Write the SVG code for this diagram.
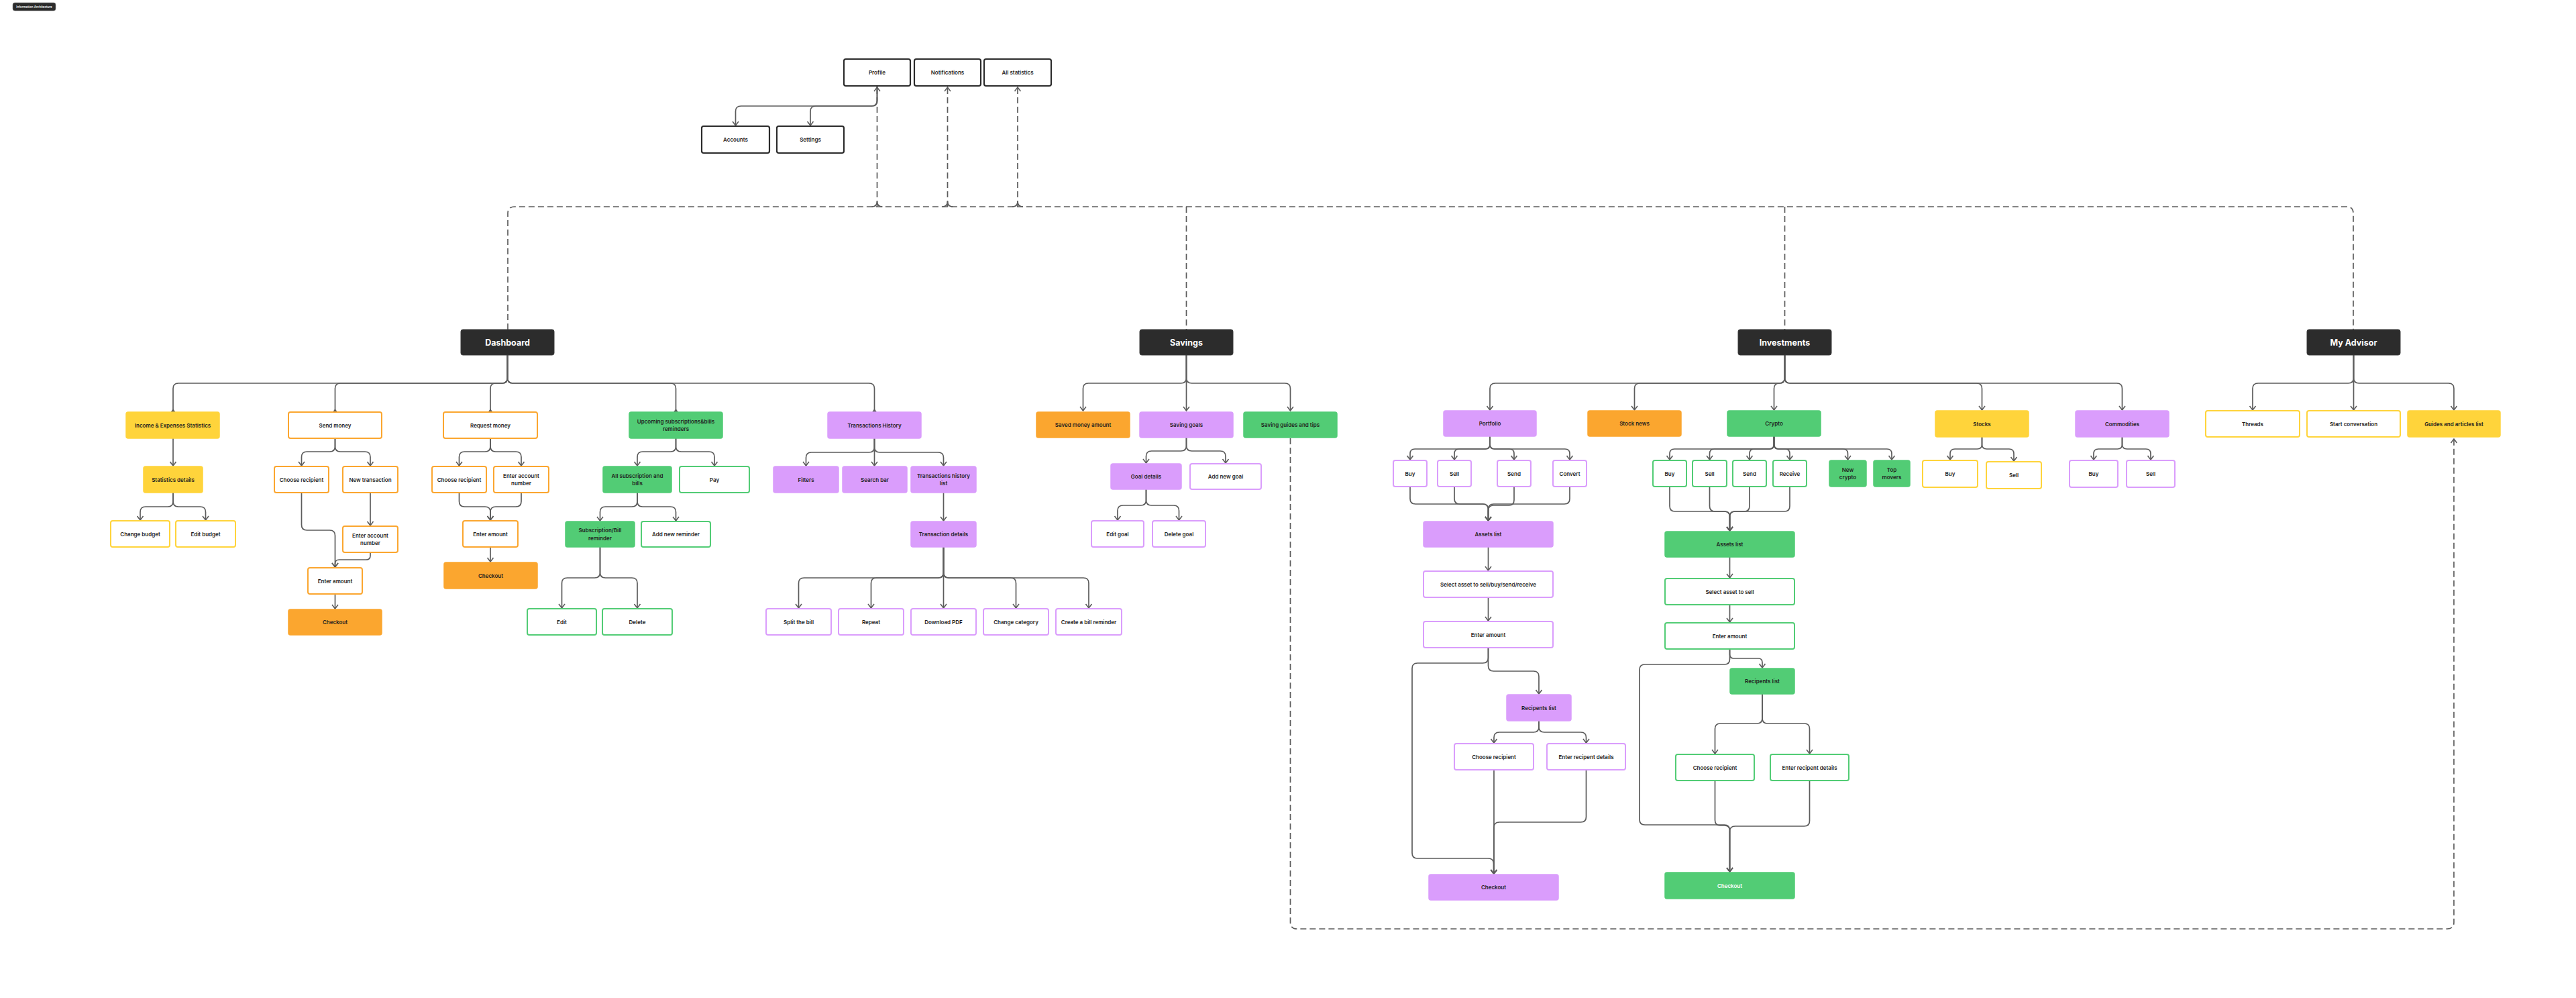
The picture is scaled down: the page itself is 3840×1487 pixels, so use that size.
<svg xmlns="http://www.w3.org/2000/svg" width="3840" height="1487" viewBox="0 0 3840 1487">
<style>
text{font-family:Inter,"Liberation Sans",Arial,sans-serif;font-size:8px;font-weight:600;fill:#1e1e1e;text-anchor:middle;dominant-baseline:central}
.root text{font-size:12.5px;font-weight:700;fill:#ffffff}
.root rect{fill:#2c2c2c;stroke:#3a3a3a;stroke-width:1}
.top rect{fill:#ffffff;stroke:#2b2b2b;stroke-width:2.2}
rect{rx:3;ry:3}
.yf{fill:#ffd43b;stroke:#ffd43b;stroke-width:1.5}
.yo{fill:#ffffff;stroke:#ffd43b;stroke-width:2}
.of{fill:#fba62f;stroke:#fba62f;stroke-width:1.5}
.oo{fill:#ffffff;stroke:#fba62f;stroke-width:2}
.gf{fill:#52cc75;stroke:#52cc75;stroke-width:1.5}
.go{fill:#ffffff;stroke:#52cc75;stroke-width:2}
.pf{fill:#da9dfc;stroke:#da9dfc;stroke-width:1.5}
.po{fill:#ffffff;stroke:#da9dfc;stroke-width:2}
.wt{fill:#ffffff}
#connectors path{fill:none;stroke:#5c5c5c;stroke-width:1.7}
#connectors .a{marker-end:url(#arr)}
#connectors .t{marker-end:url(#tri)}
#connectors .d{stroke-dasharray:9 5}
</style>
<defs>
<marker id="arr" markerUnits="userSpaceOnUse" viewBox="-8 -6 10 12" markerWidth="10" markerHeight="12" refX="0" refY="0" orient="auto">
<path d="M-6,-4.5 L0,0 L-6,4.5" fill="none" stroke="#5c5c5c" stroke-width="1.6"/>
</marker>
<marker id="tri" markerUnits="userSpaceOnUse" viewBox="-7 -5 8 10" markerWidth="8" markerHeight="10" refX="0" refY="0" orient="auto">
<path d="M0,-3.5 L-5,0 L0,3.5 Z" fill="#5c5c5c"/>
</marker>
</defs>
<rect x="0" y="0" width="3840" height="1487" fill="#ffffff" rx="0" ry="0"/>

<g id="title"><rect x="19" y="4" width="64" height="12" rx="2" ry="2" fill="#2c2c2c" stroke="#888" stroke-width="0.6"/><text x="51" y="10" style="font-size:4.6px;font-weight:500;fill:#fff">Information Architecture</text></g>

<g id="connectors">
<!-- dashed global links -->
<path class="d" d="M757 491 V318 Q757 308 767 308 H3498 Q3508 308 3508 318 V491"/>
<path class="d" d="M1768.5 308 V491"/>
<path class="d" d="M2660.5 308 V491"/>
<path class="d a" d="M1307.5 308 V130"/>
<path class="d a" d="M1412.5 308 V130"/>
<path class="d a" d="M1517 308 V130"/>
<path d="M1299.5 308 Q1307.5 308 1307.5 300 M1315.5 308 Q1307.5 308 1307.5 300"/>
<path d="M1404.5 308 Q1412.5 308 1412.5 300 M1420.5 308 Q1412.5 308 1412.5 300"/>
<path d="M1509 308 Q1517 308 1517 300 M1525 308 Q1517 308 1517 300"/>
<path class="d a" d="M1923.5 653 V1374 Q1923.5 1384 1933.5 1384 H3648 Q3658 1384 3658 1374 V654"/>
<!-- profile -->
<path class="a" d="M1307.5 128 V150 Q1307.5 158 1299.5 158 H1104.5 Q1096.5 158 1096.5 166 V187"/>
<path class="a" d="M1307.5 128 V150 Q1307.5 158 1299.5 158 H1216 Q1208 158 1208 166 V187"/>
<!-- dashboard -->
<path class="t" d="M756.5 529 V563 Q756.5 571 748.5 571 H266 Q258 571 258 579 V614"/>
<path class="t" d="M756.5 529 V563 Q756.5 571 748.5 571 H507.5 Q499.5 571 499.5 579 V614"/>
<path class="t" d="M756.5 529 V563 Q756.5 571 748.5 571 H739 Q731 571 731 579 V614"/>
<path class="t" d="M756.5 529 V563 Q756.5 571 764.5 571 H999.5 Q1007.5 571 1007.5 579 V614"/>
<path class="t" d="M756.5 529 V563 Q756.5 571 764.5 571 H1295.5 Q1303.5 571 1303.5 579 V614"/>
<path class="a" d="M258 653 V694"/>
<path class="a" d="M258 734 V747 Q258 755 250 755 H217 Q209 755 209 763 V775"/>
<path class="a" d="M258 734 V747 Q258 755 266 755 H298.5 Q306.5 755 306.5 763 V775"/>
<path class="a" d="M499.5 653 V665 Q499.5 673 491.5 673 H457.5 Q449.5 673 449.5 681 V694"/>
<path class="a" d="M499.5 653 V665 Q499.5 673 507.5 673 H544 Q552 673 552 681 V694"/>
<path class="a" d="M449.5 734 V782 Q449.5 790 457.5 790 H491.5 Q499.5 790 499.5 798 V845"/>
<path class="a" d="M552 734 V783"/>
<path class="a" d="M552 823 V828 Q552 834 546 834 H505.5 Q499.5 834 499.5 840 V845"/>
<path class="a" d="M499.5 885 V907"/>
<path class="a" d="M731 653 V665 Q731 673 723 673 H692.5 Q684.5 673 684.5 681 V694"/>
<path class="a" d="M731 653 V665 Q731 673 739 673 H769 Q777 673 777 681 V694"/>
<path class="a" d="M684.5 734 V747 Q684.5 755 692.5 755 H723 Q731 755 731 763 V775"/>
<path class="a" d="M777 734 V747 Q777 755 769 755 H739 Q731 755 731 763 V775"/>
<path class="a" d="M731 815 V837"/>
<path class="a" d="M1007.5 653 V665 Q1007.5 673 999.5 673 H958 Q950 673 950 681 V694"/>
<path class="a" d="M1007.5 653 V665 Q1007.5 673 1015.5 673 H1057 Q1065 673 1065 681 V694"/>
<path class="a" d="M950 734 V747 Q950 755 942 755 H902.5 Q894.5 755 894.5 763 V776"/>
<path class="a" d="M950 734 V747 Q950 755 958 755 H999.5 Q1007.5 755 1007.5 763 V776"/>
<path class="a" d="M894.5 815 V853 Q894.5 861 886.5 861 H845.5 Q837.5 861 837.5 869 V906"/>
<path class="a" d="M894.5 815 V853 Q894.5 861 902.5 861 H942 Q950 861 950 869 V906"/>
<path class="a" d="M1303.5 653 V666 Q1303.5 674 1295.5 674 H1209.5 Q1201.5 674 1201.5 682 V694"/>
<path class="a" d="M1303.5 653 V694"/>
<path class="a" d="M1303.5 653 V666 Q1303.5 674 1311.5 674 H1398.5 Q1406.5 674 1406.5 682 V694"/>
<path class="a" d="M1406.5 734 V776"/>
<path class="a" d="M1406.5 815 V853 Q1406.5 861 1398.5 861 H1198.5 Q1190.5 861 1190.5 869 V906"/>
<path class="a" d="M1406.5 815 V853 Q1406.5 861 1398.5 861 H1306.5 Q1298.5 861 1298.5 869 V906"/>
<path class="a" d="M1406.5 815 V906"/>
<path class="a" d="M1406.5 815 V853 Q1406.5 861 1414.5 861 H1506.5 Q1514.5 861 1514.5 869 V906"/>
<path class="a" d="M1406.5 815 V853 Q1406.5 861 1414.5 861 H1615 Q1623 861 1623 869 V906"/>
<!-- savings -->
<path class="a" d="M1768.5 529 V563 Q1768.5 571 1760.5 571 H1622.5 Q1614.5 571 1614.5 579 V612"/>
<path class="a" d="M1768.5 529 V612"/>
<path class="a" d="M1768.5 529 V563 Q1768.5 571 1776.5 571 H1915.5 Q1923.5 571 1923.5 579 V612"/>
<path class="a" d="M1768.5 652 V664 Q1768.5 672 1760.5 672 H1716.5 Q1708.5 672 1708.5 680 V690"/>
<path class="a" d="M1768.5 652 V664 Q1768.5 672 1776.5 672 H1819 Q1827 672 1827 680 V690"/>
<path class="a" d="M1708.5 729 V745 Q1708.5 753 1700.5 753 H1674 Q1666 753 1666 761 V775"/>
<path class="a" d="M1708.5 729 V745 Q1708.5 753 1716.5 753 H1749.5 Q1757.5 753 1757.5 761 V775"/>
<!-- investments -->
<path class="a" d="M2660.5 529 V563 Q2660.5 571 2652.5 571 H2229 Q2221 571 2221 579 V611"/>
<path class="a" d="M2660.5 529 V563 Q2660.5 571 2652.5 571 H2444.5 Q2436.5 571 2436.5 579 V611"/>
<path class="a" d="M2660.5 529 V563 Q2660.5 571 2652.5 571 Q2644.5 571 2644.5 579 V611"/>
<path class="a" d="M2660.5 529 V563 Q2660.5 571 2668.5 571 H2946.5 Q2954.5 571 2954.5 579 V611"/>
<path class="a" d="M2660.5 529 V563 Q2660.5 571 2668.5 571 H3155.5 Q3163.5 571 3163.5 579 V611"/>
<!-- portfolio -->
<path class="a" d="M2221 650 V662 Q2221 669 2214 669 H2109 Q2102 669 2102 676 V685"/>
<path class="a" d="M2221 650 V662 Q2221 669 2214 669 H2175 Q2168 669 2168 676 V685"/>
<path class="a" d="M2221 650 V662 Q2221 669 2228 669 H2250 Q2257 669 2257 676 V685"/>
<path class="a" d="M2221 650 V662 Q2221 669 2228 669 H2333 Q2340 669 2340 676 V685"/>
<path class="a" d="M2102 725 V743 Q2102 751 2110 751 H2210.5 Q2218.5 751 2218.5 759 V776"/>
<path class="a" d="M2168 725 V743 Q2168 751 2176 751 H2210.5 Q2218.5 751 2218.5 759 V776"/>
<path class="a" d="M2257 725 V745 Q2257 753 2249 753 H2226.5 Q2218.5 753 2218.5 761 V776"/>
<path class="a" d="M2340 725 V743 Q2340 751 2332 751 H2226.5 Q2218.5 751 2218.5 759 V776"/>
<path class="a" d="M2218.5 815 V850"/>
<path class="a" d="M2218.5 890 V925"/>
<path class="a" d="M2218.5 965 V992 Q2218.5 1000 2226.5 1000 H2286 Q2294 1000 2294 1008 V1034"/>
<path class="a" d="M2218.5 965 V980 Q2218.5 988 2210.5 988 H2113 Q2105 988 2105 996 V1271 Q2105 1279 2113 1279 H2218.5 Q2226.5 1279 2226.5 1287 V1302"/>
<path class="a" d="M2294 1074 V1083 Q2294 1091 2286 1091 H2235 Q2227 1091 2227 1099 V1107"/>
<path class="a" d="M2294 1074 V1083 Q2294 1091 2302 1091 H2356.5 Q2364.5 1091 2364.5 1099 V1107"/>
<path class="a" d="M2227 1147 V1302"/>
<path class="a" d="M2364.5 1147 V1217 Q2364.5 1225 2356.5 1225 H2235 Q2227 1225 2227 1233 V1302"/>
<!-- crypto -->
<path class="a" d="M2644.5 650 V662 Q2644.5 669 2637.5 669 H2496 Q2489 669 2489 676 V685"/>
<path class="a" d="M2644.5 650 V662 Q2644.5 669 2637.5 669 H2555.5 Q2548.5 669 2548.5 676 V685"/>
<path class="a" d="M2644.5 650 V662 Q2644.5 669 2637.5 669 H2615 Q2608 669 2608 676 V685"/>
<path class="a" d="M2644.5 650 V662 Q2644.5 669 2651.5 669 H2661 Q2668 669 2668 676 V685"/>
<path class="a" d="M2644.5 650 V662 Q2644.5 669 2651.5 669 H2747.5 Q2754.5 669 2754.5 676 V685"/>
<path class="a" d="M2644.5 650 V662 Q2644.5 669 2651.5 669 H2813 Q2820 669 2820 676 V685"/>
<path class="a" d="M2489 725 V754 Q2489 762 2497 762 H2570.5 Q2578.5 762 2578.5 770 V791"/>
<path class="a" d="M2548.5 725 V754 Q2548.5 762 2556.5 762 H2570.5 Q2578.5 762 2578.5 770 V791"/>
<path class="a" d="M2608 725 V754 Q2608 762 2600 762 H2586.5 Q2578.5 762 2578.5 770 V791"/>
<path class="a" d="M2668 725 V754 Q2668 762 2660 762 H2586.5 Q2578.5 762 2578.5 770 V791"/>
<path class="a" d="M2578.5 830 V861"/>
<path class="a" d="M2578.5 901 V927"/>
<path class="a" d="M2578.5 967 V975 Q2578.5 981 2584.5 981 H2621 Q2627 981 2627 987 V995"/>
<path class="a" d="M2578.5 967 V982 Q2578.5 990 2570.5 990 H2452 Q2444 990 2444 998 V1221 Q2444 1229 2452 1229 H2570.5 Q2578.5 1229 2578.5 1237 V1299"/>
<path class="a" d="M2627 1034 V1070 Q2627 1078 2619 1078 H2564.5 Q2556.5 1078 2556.5 1086 V1123"/>
<path class="a" d="M2627 1034 V1070 Q2627 1078 2635 1078 H2689.5 Q2697.5 1078 2697.5 1086 V1123"/>
<path class="a" d="M2556.5 1163 V1222 Q2556.5 1230 2564.5 1230 H2570.5 Q2578.5 1230 2578.5 1238 V1299"/>
<path class="a" d="M2697.5 1163 V1223 Q2697.5 1231 2689.5 1231 H2586.5 Q2578.5 1231 2578.5 1239 V1299"/>
<!-- stocks / commodities -->
<path class="a" d="M2954.5 651 V662 Q2954.5 669 2947.5 669 H2914 Q2907 669 2907 676 V685"/>
<path class="a" d="M2954.5 651 V662 Q2954.5 669 2961.5 669 H2995 Q3002 669 3002 676 V687"/>
<path class="a" d="M3163.5 651 V662 Q3163.5 669 3156.5 669 H3128 Q3121 669 3121 676 V685"/>
<path class="a" d="M3163.5 651 V662 Q3163.5 669 3170.5 669 H3199 Q3206 669 3206 676 V685"/>
<!-- advisor -->
<path class="a" d="M3508.5 529 V563 Q3508.5 571 3500.5 571 H3366 Q3358 571 3358 579 V611"/>
<path class="a" d="M3508.5 529 V611"/>
<path class="a" d="M3508.5 529 V563 Q3508.5 571 3516.5 571 H3650 Q3658 571 3658 579 V611"/>
</g>

<g id="profile" class="top"><rect x="1258" y="88" width="99" height="40"/><text x="1307.5" y="108">Profile</text></g>
<g id="notifications" class="top"><rect x="1363" y="88" width="99" height="40"/><text x="1412.5" y="108">Notifications</text></g>
<g id="all-statistics" class="top"><rect x="1467" y="88" width="100" height="40"/><text x="1517" y="108">All statistics</text></g>
<g id="accounts" class="top"><rect x="1046" y="188" width="101" height="40"/><text x="1096.5" y="208">Accounts</text></g>
<g id="settings" class="top"><rect x="1158" y="188" width="100" height="40"/><text x="1208" y="208">Settings</text></g>

<g id="dashboard" class="root"><rect x="687" y="491" width="139" height="38"/><text x="756.5" y="510">Dashboard</text></g>
<g id="savings" class="root"><rect x="1699" y="491" width="139" height="38"/><text x="1768.5" y="510">Savings</text></g>
<g id="investments" class="root"><rect x="2591" y="491" width="139" height="38"/><text x="2660.5" y="510">Investments</text></g>
<g id="my-advisor" class="root"><rect x="3439" y="491" width="139" height="38"/><text x="3508.5" y="510">My Advisor</text></g>

<g id="income-expenses"><rect class="yf" x="188" y="614" width="139" height="39"/><text x="257.5" y="633.5">Income &amp; Expenses Statistics</text></g>
<g id="statistics-details"><rect class="yf" x="214" y="695" width="88" height="39"/><text x="258" y="714.5">Statistics details</text></g>
<g id="change-budget"><rect class="yo" x="165" y="776" width="88" height="39"/><text x="209" y="795.5">Change budget</text></g>
<g id="edit-budget"><rect class="yo" x="262" y="776" width="89" height="39"/><text x="306.5" y="795.5">Edit budget</text></g>

<g id="send-money"><rect class="oo" x="430" y="614" width="139" height="39"/><text x="499.5" y="633.5">Send money</text></g>
<g id="send-choose-recipient"><rect class="oo" x="409" y="695" width="81" height="39"/><text x="449.5" y="714.5">Choose recipient</text></g>
<g id="send-new-transaction"><rect class="oo" x="511" y="695" width="82" height="39"/><text x="552" y="714.5">New transaction</text></g>
<g id="send-enter-account"><rect class="oo" x="511" y="784" width="82" height="39"/><text x="552" y="803.5"><tspan x="552" y="797.8">Enter account</tspan><tspan x="552" y="809.3">number</tspan></text></g>
<g id="send-enter-amount"><rect class="oo" x="459" y="846" width="81" height="39"/><text x="499.5" y="865.5">Enter amount</text></g>
<g id="send-checkout"><rect class="of" x="430" y="908" width="139" height="38"/><text x="499.5" y="927">Checkout</text></g>

<g id="request-money"><rect class="oo" x="661" y="614" width="140" height="39"/><text x="731" y="633.5">Request money</text></g>
<g id="request-choose-recipient"><rect class="oo" x="644" y="695" width="81" height="39"/><text x="684.5" y="714.5">Choose recipient</text></g>
<g id="request-enter-account"><rect class="oo" x="736" y="695" width="82" height="39"/><text x="777" y="714.5"><tspan x="777" y="708.8">Enter account</tspan><tspan x="777" y="720.3">number</tspan></text></g>
<g id="request-enter-amount"><rect class="oo" x="690" y="776" width="82" height="39"/><text x="731" y="795.5">Enter amount</text></g>
<g id="request-checkout"><rect class="of" x="662" y="838" width="139" height="39"/><text x="731.5" y="857.5">Checkout</text></g>

<g id="upcoming"><rect class="gf" x="938" y="614" width="139" height="39"/><text x="1007.5" y="633.5"><tspan x="1007.5" y="627.8">Upcoming subscriptions&amp;bills</tspan><tspan x="1007.5" y="639.3">reminders</tspan></text></g>
<g id="all-subscriptions"><rect class="gf" x="899" y="695" width="102" height="39"/><text x="950" y="714.5"><tspan x="950" y="708.8">All subscription and</tspan><tspan x="950" y="720.3">bills</tspan></text></g>
<g id="pay"><rect class="go" x="1013" y="695" width="104" height="39"/><text x="1065" y="714.5">Pay</text></g>
<g id="subscription-reminder"><rect class="gf" x="843" y="777" width="103" height="38"/><text x="894.5" y="796"><tspan x="894.5" y="790.3">Subscription/Bill</tspan><tspan x="894.5" y="801.8">reminder</tspan></text></g>
<g id="add-new-reminder"><rect class="go" x="956" y="777" width="103" height="38"/><text x="1007.5" y="796">Add new reminder</text></g>
<g id="edit"><rect class="go" x="786" y="907" width="103" height="39"/><text x="837.5" y="926.5">Edit</text></g>
<g id="delete"><rect class="go" x="898" y="907" width="104" height="39"/><text x="950" y="926.5">Delete</text></g>

<g id="transactions-history"><rect class="pf" x="1234" y="614" width="139" height="39"/><text x="1303.5" y="633.5">Transactions History</text></g>
<g id="filters"><rect class="pf" x="1153" y="695" width="97" height="39"/><text x="1201.5" y="714.5">Filters</text></g>
<g id="search-bar"><rect class="pf" x="1256" y="695" width="96" height="39"/><text x="1304" y="714.5">Search bar</text></g>
<g id="transactions-list"><rect class="pf" x="1358" y="695" width="97" height="39"/><text x="1406.5" y="714.5"><tspan x="1406.5" y="708.8">Transactions history</tspan><tspan x="1406.5" y="720.3">list</tspan></text></g>
<g id="transaction-details"><rect class="pf" x="1358" y="777" width="97" height="38"/><text x="1406.5" y="796">Transaction details</text></g>
<g id="split-bill"><rect class="po" x="1142" y="907" width="97" height="39"/><text x="1190.5" y="926.5">Split the bill</text></g>
<g id="repeat"><rect class="po" x="1250" y="907" width="97" height="39"/><text x="1298.5" y="926.5">Repeat</text></g>
<g id="download-pdf"><rect class="po" x="1358" y="907" width="97" height="39"/><text x="1406.5" y="926.5">Download PDF</text></g>
<g id="change-category"><rect class="po" x="1466" y="907" width="97" height="39"/><text x="1514.5" y="926.5">Change category</text></g>
<g id="create-bill-reminder"><rect class="po" x="1574" y="907" width="98" height="39"/><text x="1623" y="926.5">Create a bill reminder</text></g>

<g id="saved-money"><rect class="of" x="1545" y="614" width="139" height="38"/><text x="1614.5" y="633">Saved money amount</text></g>
<g id="saving-goals"><rect class="pf" x="1699" y="614" width="139" height="38"/><text x="1768.5" y="633">Saving goals</text></g>
<g id="saving-guides"><rect class="gf" x="1854" y="614" width="139" height="38"/><text x="1923.5" y="633">Saving guides and tips</text></g>
<g id="goal-details"><rect class="pf" x="1656" y="691" width="105" height="38"/><text x="1708.5" y="710">Goal details</text></g>
<g id="add-new-goal"><rect class="po" x="1774" y="691" width="106" height="38"/><text x="1827" y="710">Add new goal</text></g>
<g id="edit-goal"><rect class="po" x="1627" y="776" width="78" height="39"/><text x="1666" y="795.5">Edit goal</text></g>
<g id="delete-goal"><rect class="po" x="1718" y="776" width="79" height="39"/><text x="1757.5" y="795.5">Delete goal</text></g>

<g id="portfolio"><rect class="pf" x="2152" y="612" width="138" height="38"/><text x="2221" y="631">Portfolio</text></g>
<g id="portfolio-buy"><rect class="po" x="2077" y="686" width="50" height="39"/><text x="2102" y="705.5">Buy</text></g>
<g id="portfolio-sell"><rect class="po" x="2143" y="686" width="50" height="39"/><text x="2168" y="705.5">Sell</text></g>
<g id="portfolio-send"><rect class="po" x="2232" y="686" width="50" height="39"/><text x="2257" y="705.5">Send</text></g>
<g id="portfolio-convert"><rect class="po" x="2315" y="686" width="50" height="39"/><text x="2340" y="705.5">Convert</text></g>
<g id="portfolio-assets"><rect class="pf" x="2122" y="777" width="193" height="38"/><text x="2218.5" y="796">Assets list</text></g>
<g id="portfolio-select"><rect class="po" x="2122" y="851" width="193" height="39"/><text x="2218.5" y="870.5">Select asset to sell/buy/send/receive</text></g>
<g id="portfolio-amount"><rect class="po" x="2122" y="926" width="193" height="39"/><text x="2218.5" y="945.5">Enter amount</text></g>
<g id="portfolio-recipients"><rect class="pf" x="2246" y="1035" width="96" height="39"/><text x="2294" y="1054.5">Recipents list</text></g>
<g id="portfolio-choose"><rect class="po" x="2168" y="1108" width="118" height="39"/><text x="2227" y="1127.5">Choose recipient</text></g>
<g id="portfolio-enter-details"><rect class="po" x="2306" y="1108" width="117" height="39"/><text x="2364.5" y="1127.5">Enter recipent details</text></g>
<g id="portfolio-checkout"><rect class="pf" x="2130" y="1303" width="193" height="38"/><text x="2226.5" y="1322">Checkout</text></g>

<g id="stock-news"><rect class="of" x="2367" y="612" width="139" height="38"/><text x="2436.5" y="631">Stock news</text></g>

<g id="crypto"><rect class="gf" x="2575" y="612" width="139" height="38"/><text x="2644.5" y="631">Crypto</text></g>
<g id="crypto-buy"><rect class="go" x="2464" y="686" width="50" height="39"/><text x="2489" y="705.5">Buy</text></g>
<g id="crypto-sell"><rect class="go" x="2523" y="686" width="51" height="39"/><text x="2548.5" y="705.5">Sell</text></g>
<g id="crypto-send"><rect class="go" x="2583" y="686" width="50" height="39"/><text x="2608" y="705.5">Send</text></g>
<g id="crypto-receive"><rect class="go" x="2643" y="686" width="50" height="39"/><text x="2668" y="705.5">Receive</text></g>
<g id="new-crypto"><rect class="gf" x="2727" y="686" width="55" height="39"/><text x="2754.5" y="705.5"><tspan x="2754.5" y="699.8">New</tspan><tspan x="2754.5" y="711.3">crypto</tspan></text></g>
<g id="top-movers"><rect class="gf" x="2793" y="686" width="54" height="39"/><text x="2820" y="705.5"><tspan x="2820" y="699.8">Top</tspan><tspan x="2820" y="711.3">movers</tspan></text></g>
<g id="crypto-assets"><rect class="gf" x="2482" y="792" width="193" height="38"/><text x="2578.5" y="811">Assets list</text></g>
<g id="crypto-select"><rect class="go" x="2482" y="862" width="193" height="39"/><text x="2578.5" y="881.5">Select asset to sell</text></g>
<g id="crypto-amount"><rect class="go" x="2482" y="928" width="193" height="39"/><text x="2578.5" y="947.5">Enter amount</text></g>
<g id="crypto-recipients"><rect class="gf" x="2579" y="996" width="96" height="38"/><text x="2627" y="1015">Recipents list</text></g>
<g id="crypto-choose"><rect class="go" x="2498" y="1124" width="117" height="39"/><text x="2556.5" y="1143.5">Choose recipient</text></g>
<g id="crypto-enter-details"><rect class="go" x="2639" y="1124" width="117" height="39"/><text x="2697.5" y="1143.5">Enter recipent details</text></g>
<g id="crypto-checkout"><rect class="gf" x="2482" y="1300" width="193" height="39"/><text class="wt" x="2578.5" y="1319.5">Checkout</text></g>

<g id="stocks"><rect class="yf" x="2885" y="612" width="139" height="39"/><text x="2954.5" y="631.5">Stocks</text></g>
<g id="stocks-buy"><rect class="yo" x="2866" y="686" width="82" height="40"/><text x="2907" y="706">Buy</text></g>
<g id="stocks-sell"><rect class="yo" x="2961" y="688" width="82" height="40"/><text x="3002" y="708">Sell</text></g>
<g id="commodities"><rect class="pf" x="3094" y="612" width="139" height="39"/><text x="3163.5" y="631.5">Commodities</text></g>
<g id="commodities-buy"><rect class="po" x="3085" y="686" width="72" height="40"/><text x="3121" y="706">Buy</text></g>
<g id="commodities-sell"><rect class="po" x="3170" y="686" width="72" height="40"/><text x="3206" y="706">Sell</text></g>

<g id="threads"><rect class="yo" x="3288" y="612" width="140" height="39"/><text x="3358" y="631.5">Threads</text></g>
<g id="start-conversation"><rect class="yo" x="3439" y="612" width="139" height="39"/><text x="3508.5" y="631.5">Start conversation</text></g>
<g id="guides-articles"><rect class="yf" x="3589" y="612" width="138" height="39"/><text x="3658" y="631.5">Guides and articles list</text></g>
</svg>
